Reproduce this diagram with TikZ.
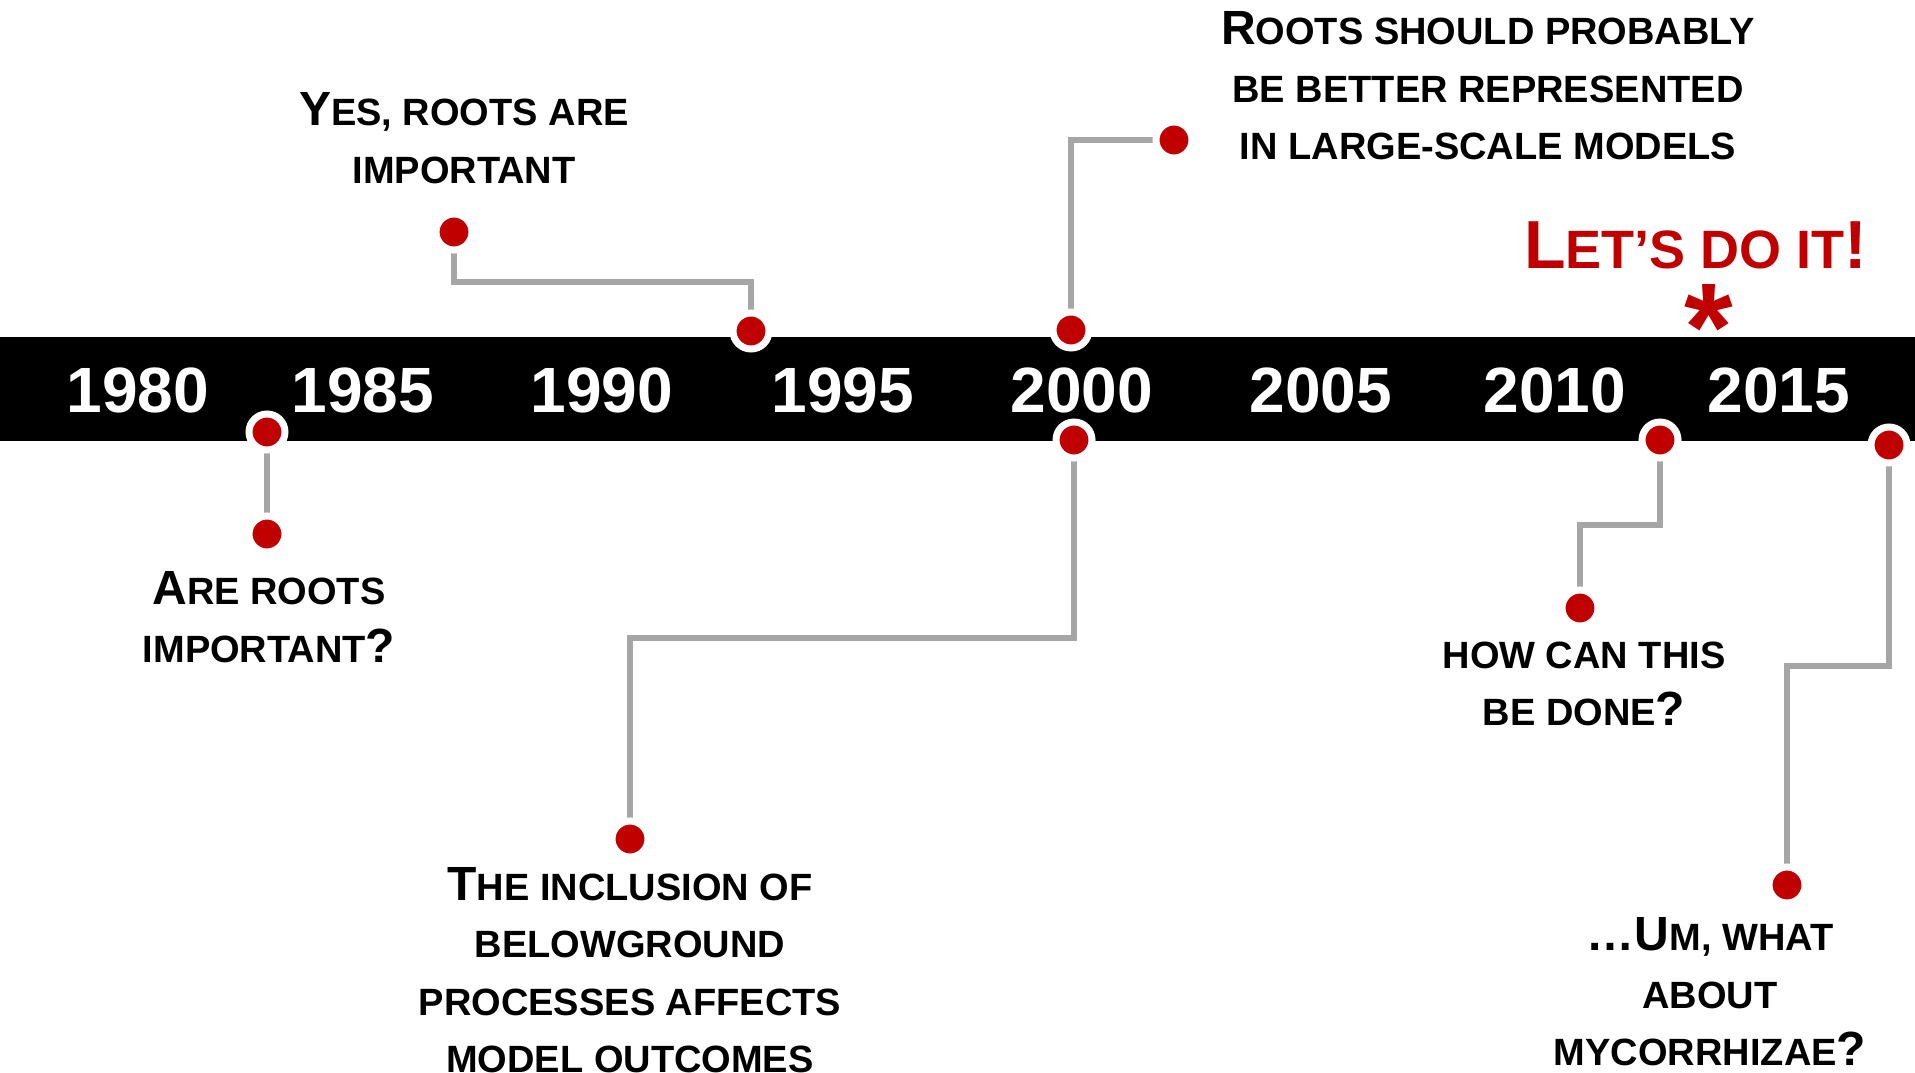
\documentclass[tikz,border=0pt]{standalone}
\usepackage{fontspec}
\setmainfont{Liberation Sans}
\pgfdeclarelayer{bg}
\pgfsetlayers{bg,main}
\definecolor{tred}{HTML}{C00000}
\definecolor{tgray}{HTML}{A6A6A6}
\newcommand\BC[1]{{\fontsize{48}{57.5}\selectfont #1}}
\newcommand\BL[1]{{\fontsize{68}{68}\selectfont #1}}
\begin{document}
\begin{tikzpicture}[x=1pt,y=-1pt,
  dot/.style={circle,fill=tred,draw=white,line width=7pt,minimum size=36pt,inner sep=0pt},
  conn/.style={draw=tgray,line width=6pt,line join=miter},
  year/.style={text=white,font=\bfseries\fontsize{64}{64}\selectfont,inner sep=0pt},
  evtext/.style={align=center,font=\bfseries\fontsize{38}{57.5}\selectfont,inner sep=0pt}]
\useasboundingbox (0,0) rectangle (1915,1073);

% years
\node[year] (y1980) at (138,390) {1980};
\node[year] (y1985) at (363,390) {1985};
\node[year] (y1990) at (602,390) {1990};
\node[year] (y1995) at (843,390) {1995};
\node[year] (y2000) at (1082,390) {2000};
\node[year] (y2005) at (1321,390) {2005};
\node[year] (y2010) at (1555,390) {2010};
\node[year] (y2015) at (1779,390) {2015};

% dots
\node[dot] (a1) at (267,432) {};
\node[dot] (b1) at (267,534) {};
\node[dot] (a2) at (751,331) {};
\node[dot] (b2) at (454,232) {};
\node[dot] (a3) at (1071,330) {};
\node[dot] (b3) at (1174,140) {};
\node[dot] (a4) at (1074,440) {};
\node[dot] (b4) at (630,839) {};
\node[dot] (a5) at (1660,440) {};
\node[dot] (b5) at (1580,608) {};
\node[dot] (a6) at (1889,445) {};
\node[dot] (b6) at (1787,885) {};

\coordinate (k2) at (751,282);
\coordinate (k4) at (1074,638);
\coordinate (k5) at (1660,525);
\coordinate (k6) at (1889,666);

\begin{pgfonlayer}{bg}
\fill[black] (0,337) rectangle (1915,441);
\draw[conn] (a1.center) -- (b1.center);
\draw[conn] (a2.center) -- (k2) -| (b2.center);
\draw[conn] (a3.center) |- (b3.center);
\draw[conn] (a4.center) -- (k4) -| (b4.center);
\draw[conn] (a5.center) -- (k5) -| (b5.center);
\draw[conn] (a6.center) -- (k6) -| (b6.center);
\end{pgfonlayer}

% texts
\node[evtext] (t1) at (269,617) {\BC{A}RE ROOTS\\IMPORTANT\BC{?}};
\node[evtext] (t2) at (464,138) {\BC{Y}ES, ROOTS ARE\\IMPORTANT};
\node[evtext] (t3) at (1488,86) {\BC{R}OOTS SHOULD PROBABLY\\BE BETTER REPRESENTED\\IN LARGE-SCALE MODELS};
\node[evtext] (t4) at (630,970) {\BC{T}HE INCLUSION OF\\BELOWGROUND\\PROCESSES AFFECTS\\MODEL OUTCOMES};
\node[evtext] (t5) at (1584,684) {HOW CAN THIS\\BE DONE\BC{?}};
\node[evtext] (t6) at (1710,992) {\BC{…U}M, WHAT\\ABOUT\\MYCORRHIZAE\BC{?}};

\node[text=tred,font=\bfseries\fontsize{54}{54}\selectfont,inner sep=0pt] (lets) at (1696,245) {\BL{L}ET’S DO IT\BL{!}};
\node[text=tred,font=\bfseries\fontsize{125}{125}\selectfont,inner sep=0pt] (ast) at (1709,327) {*};
\end{tikzpicture}
\end{document}
